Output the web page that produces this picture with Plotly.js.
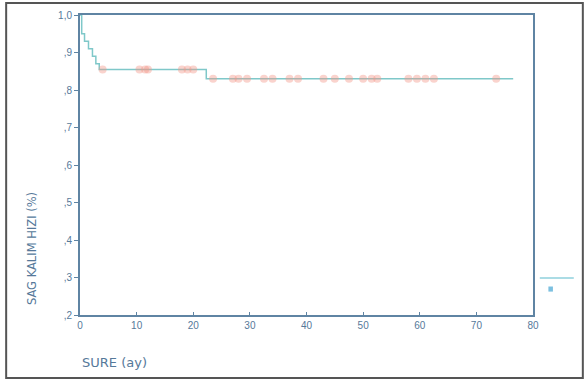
<!DOCTYPE html>
<html><head><meta charset="utf-8">
<script src="https://cdn.plot.ly/plotly-3.0.1.min.js"></script>
<style>html,body{margin:0;padding:0;background:#fff}#c{width:586px;height:381px}</style>
</head><body><div id="c"></div>
<script>
// Kaplan-Meier survival curve (step)
const timeMonths = [0, 0.3, 0.8, 1.5, 2.2, 2.8, 3.4, 22.3, 76.5];
const survival   = [1.0, 0.95, 0.93, 0.91, 0.89, 0.87, 0.855, 0.83, 0.83];
// censored observations
const censTime = [4, 10.5, 11.5, 12, 18, 19, 20, 23.5, 27, 28, 29.5, 32.5, 34, 37, 38.5, 43, 45, 47.5, 50, 51.5, 52.5, 58, 59.5, 61, 62.5, 73.5];
const censSurv = [0.855, 0.855, 0.855, 0.855, 0.855, 0.855, 0.855, 0.83, 0.83, 0.83, 0.83, 0.83, 0.83, 0.83, 0.83, 0.83, 0.83, 0.83, 0.83, 0.83, 0.83, 0.83, 0.83, 0.83, 0.83, 0.83];
const xTicks = [0, 10, 20, 30, 40, 50, 60, 70, 80];
const xTickLabels = ['0', '10', '20', '30', '40', '50', '60', '70', '80'];
const yTicks = [0.2, 0.3, 0.4, 0.5, 0.6, 0.7, 0.8, 0.9, 1.0];
const yTickLabels = [',2', ',3', ',4', ',5', ',6', ',7', ',8', ',9', '1,0'];

const axisCol = '#5f84a3';
const textCol = '#56799a';

const traces = [
  {x: timeMonths, y: survival, mode: 'lines', line: {shape: 'hv', color: '#7fc8c9', width: 1.5}, showlegend: false, hoverinfo: 'skip'},
  {x: censTime, y: censSurv, mode: 'markers', marker: {symbol: 'circle', size: 8, color: 'rgba(244,150,135,0.42)'}, showlegend: false, hoverinfo: 'skip'}
];

const layout = {
  width: 586, height: 381,
  margin: {l: 80, r: 53, t: 15, b: 66},
  paper_bgcolor: '#fff', plot_bgcolor: '#fff',
  font: {family: 'Liberation Sans, Arial, sans-serif', size: 10, color: textCol},
  xaxis: {range: [0, 80], tickvals: xTicks, ticktext: xTickLabels, showgrid: false, zeroline: false,
    showline: true, linecolor: axisCol, linewidth: 2, mirror: true, ticks: 'inside', ticklen: 3, tickcolor: axisCol,
    tickfont: {size: 10, color: textCol}},
  yaxis: {range: [0.2, 1.0], tickvals: yTicks, ticktext: yTickLabels, showgrid: false, zeroline: false,
    showline: true, linecolor: axisCol, linewidth: 2, mirror: true, ticks: 'outside', ticklen: 4, tickcolor: axisCol,
    tickfont: {size: 10, color: textCol}},
  annotations: [
    {text: 'SAG KALIM HIZI (%)', xref: 'paper', yref: 'paper', x: -0.106, y: 0.223, textangle: -90,
     showarrow: false, font: {family: 'DejaVu Sans, sans-serif', size: 11.5, color: textCol}, xanchor: 'center', yanchor: 'middle'},
    {text: 'SURE (ay)', xref: 'paper', yref: 'paper', x: 0.0, y: -0.157, showarrow: false,
     font: {family: 'DejaVu Sans, sans-serif', size: 13, color: textCol}, xanchor: 'left', yanchor: 'middle'}
  ],
  shapes: [
    {type: 'rect', xref: 'paper', yref: 'paper', x0: -0.163, x1: 1.11, y0: -0.21, y1: 1.04,
     line: {color: '#555', width: 2}, fillcolor: 'rgba(0,0,0,0)'},
    {type: 'line', xref: 'paper', yref: 'paper', x0: 1.015, x1: 1.09, y0: 0.123, y1: 0.123,
     line: {color: '#8fd0dc', width: 1.5}},
    {type: 'rect', xref: 'paper', yref: 'paper', x0: 1.034, x1: 1.044, y0: 0.078, y1: 0.095,
     line: {width: 0}, fillcolor: '#7cc0e0'}
  ]
};
Plotly.newPlot('c', traces, layout, {staticPlot: true, displayModeBar: false});
</script></body></html>
